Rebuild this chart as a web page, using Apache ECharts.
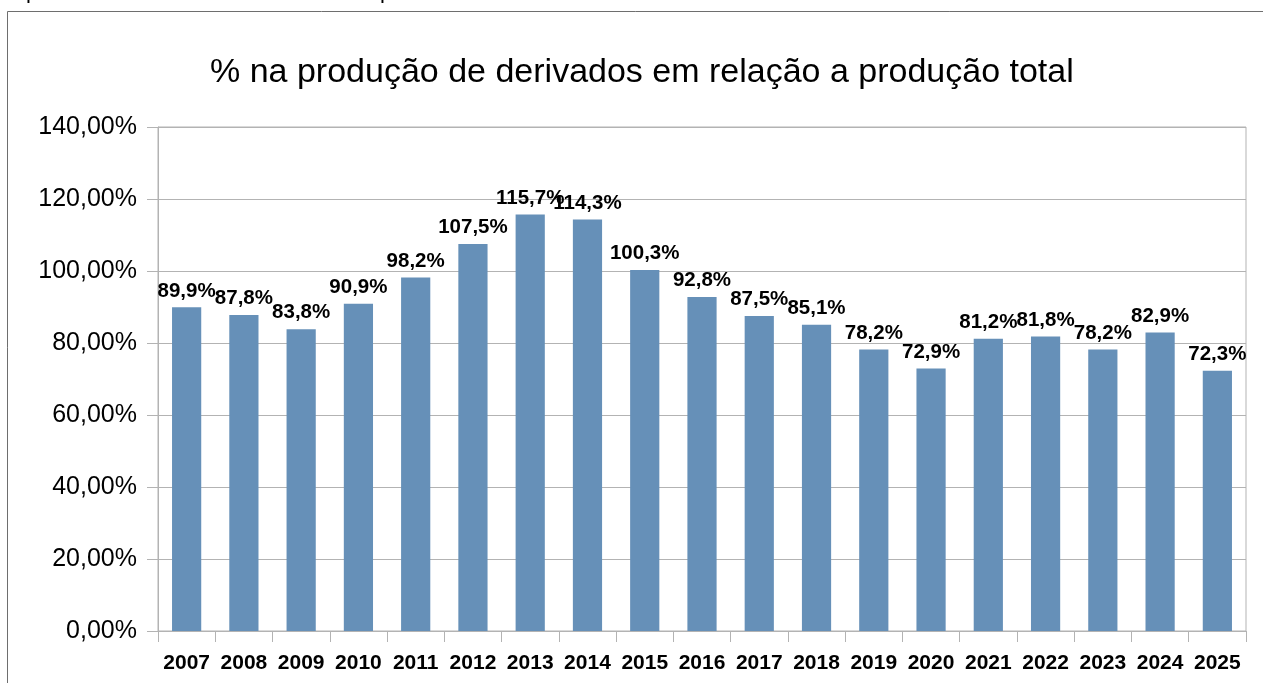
<!DOCTYPE html>
<html>
<head>
<meta charset="utf-8">
<script src="https://cdn.jsdelivr.net/npm/echarts@6/dist/echarts.min.js"></script>
<style>
  html, body { margin: 0; padding: 0; background: #fff; }
  #chart { width: 1263px; height: 683px; }
</style>
</head>
<body>
<div id="chart"></div>
<script>
// anos
var years = ['2007', '2008', '2009', '2010', '2011', '2012', '2013', '2014', '2015', '2016',
  '2017', '2018', '2019', '2020', '2021', '2022', '2023', '2024', '2025']
// % derivados / produção total
var pctValues = [89.9, 87.8, 83.8, 90.9, 98.2, 107.5, 115.7, 114.3, 100.3, 92.8,
  87.5, 85.1, 78.2, 72.9, 81.2, 81.8, 78.2, 82.9, 72.3]
var yMin = 0
var yMax = 140
var yStep = 20

var font = '"Liberation Sans", Arial, sans-serif'
var gridColor = '#b3b3b3'

var chart = echarts.init(document.getElementById('chart'))
var option = {
  animation: false,
  title: {
    text: '% na produção de derivados em relação a produção total',
    left: 205,
    top: 51,
    textStyle: { fontFamily: font, fontSize: 34, fontWeight: 'normal', color: '#000' }
  },
  graphic: [
    {
      type: 'rect',
      shape: { x: 7.5, y: 11.5, width: 1400, height: 800 },
      style: { fill: 'none', stroke: '#6e6e6e', lineWidth: 1 },
      silent: true
    },
    // restos de texto cortado no topo
    { type: 'text', x: 26, y: -19, style: { text: 'p', font: '22px ' + font, fill: '#000' } },
    { type: 'text', x: 380, y: -19, style: { text: 'p', font: '22px ' + font, fill: '#000' } }
  ],
  grid: {
    left: 158,
    right: 17,
    top: 127,
    bottom: 52,
    show: true,
    borderColor: gridColor,
    borderWidth: 1
  },
  xAxis: {
    type: 'category',
    data: years,
    axisLine: { show: true, lineStyle: { color: gridColor } },
    axisTick: { show: true, length: 11, alignWithLabel: false, lineStyle: { color: gridColor } },
    axisLabel: {
      interval: 0,
      margin: 22,
      color: '#000',
      fontFamily: font,
      fontSize: 21,
      fontWeight: 'bold'
    },
    splitLine: { show: false }
  },
  yAxis: {
    type: 'value',
    min: yMin,
    max: yMax,
    interval: yStep,
    axisLine: { show: true, lineStyle: { color: gridColor } },
    axisTick: { show: true, length: 11, lineStyle: { color: gridColor } },
    axisLabel: {
      margin: 21,
      color: '#000',
      fontFamily: font,
      fontSize: 25,
      formatter: function (v) {
        return v.toFixed(2).replace('.', ',') + '%'
      }
    },
    splitLine: { show: true, lineStyle: { color: gridColor, width: 1 } }
  },
  series: [
    {
      type: 'bar',
      data: pctValues,
      barWidth: '51%',
      itemStyle: { color: '#6690b8' },
      label: {
        show: true,
        position: 'top',
        distance: 6,
        color: '#000',
        fontFamily: font,
        fontSize: 20.5,
        fontWeight: 'bold',
        formatter: function (p) {
          return p.value.toFixed(1).replace('.', ',') + '%'
        }
      },
      labelLayout: { hideOverlap: false }
    }
  ]
}
chart.setOption(option)
</script>
</body>
</html>
